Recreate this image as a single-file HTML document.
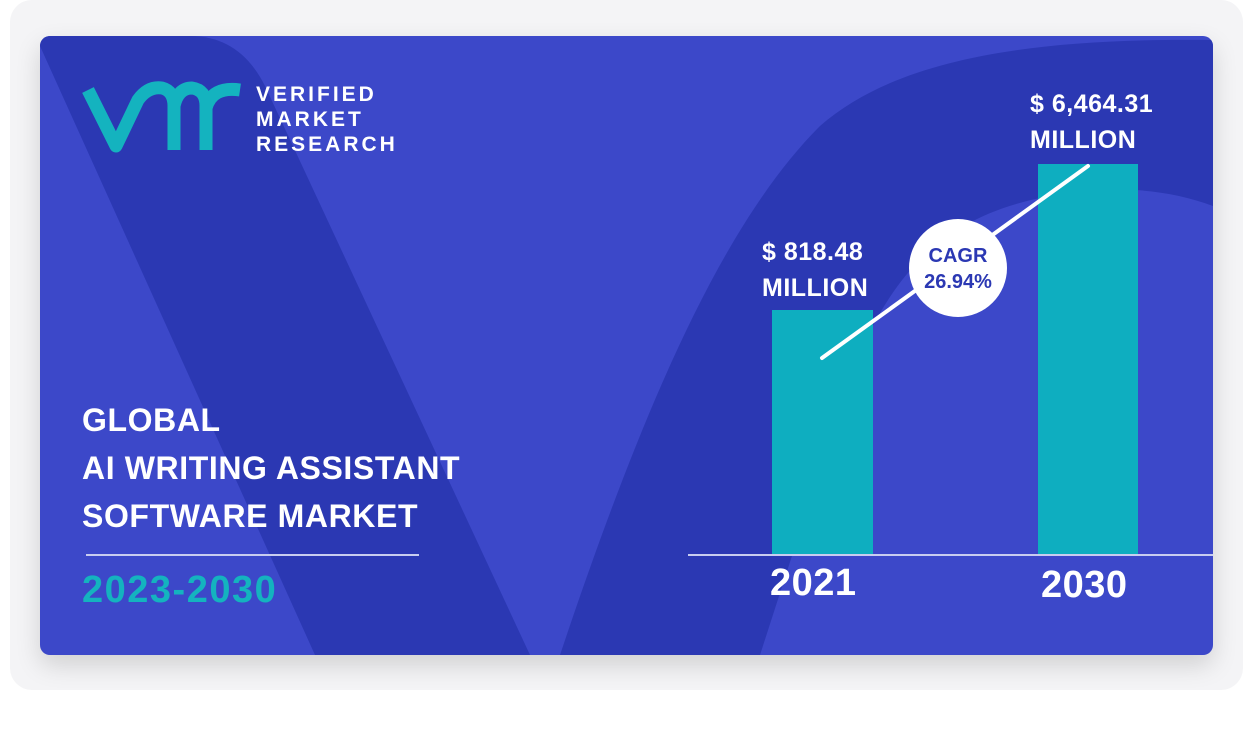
<!DOCTYPE html>
<html><head><style>
body{margin:0;width:1253px;height:732px;background:#fff;overflow:hidden;font-family:"Liberation Sans",sans-serif;}
.outer{position:absolute;left:10px;top:0;width:1233px;height:690px;background:#f4f4f6;border-radius:22px;}
.card{position:absolute;left:40px;top:36px;width:1173px;height:619px;border-radius:10px;overflow:hidden;background:#3c48c9;box-shadow:0 10px 25px rgba(0,0,0,0.15);}
.t{position:absolute;color:#fff;font-weight:bold;white-space:nowrap;}
</style></head><body>
<div class="outer"></div>
<div class="card">
<svg width="1173" height="619" style="position:absolute;left:0;top:0">
<path d="M0 0 L150 0 Q200 0 225 50 L490 619 L275 619 L0 10 Z" fill="#2b38b3"/>
<path d="M520 619 C600 380 680 190 780 90 C860 20 1000 2 1173 4 L1173 170 C1120 150 1060 150 1010 160 C900 180 850 240 810 340 L720 619 Z" fill="#2b38b3"/>
<line x1="648" y1="519" x2="1173" y2="519" stroke="#c8cdf0" stroke-width="2"/>
<rect x="732" y="274" width="101" height="244" fill="#0eaec0"/>
<rect x="998" y="128" width="100" height="390" fill="#0eaec0"/>
<line x1="782" y1="322" x2="1048" y2="130" stroke="#fff" stroke-width="4" stroke-linecap="round"/>
<circle cx="918" cy="232" r="49" fill="#fff"/>
<text x="918" y="226" text-anchor="middle" font-family="Liberation Sans" font-weight="bold" font-size="20" fill="#2b38b3">CAGR</text>
<text x="918" y="252" text-anchor="middle" font-family="Liberation Sans" font-weight="bold" font-size="20" fill="#2b38b3">26.94%</text>
<line x1="46" y1="519" x2="379" y2="519" stroke="#c8cdf0" stroke-width="2"/>
<path d="M48 54 L76 110 L98 64 Q108 50 122 52 Q134 55 134 70 L134 114 M134 70 Q138 52 152 52 Q166 54 166 70 L166 114 M166 72 Q172 50 200 54" fill="none" stroke="#14b3bf" stroke-width="13" stroke-linejoin="round"/>
</svg>
<div class="t" style="left:216px;top:46px;font-size:21px;line-height:25px;letter-spacing:3px;">VERIFIED<br>MARKET<br>RESEARCH</div>
<div class="t" style="left:42px;top:360px;font-size:32px;line-height:48px;letter-spacing:0.6px">GLOBAL<br>AI WRITING ASSISTANT<br>SOFTWARE MARKET</div>
<div class="t" style="left:42px;top:533px;font-size:38px;letter-spacing:1.5px;color:#14b3bf">2023-2030</div>
<div class="t" style="left:722px;top:198px;font-size:25px;line-height:36px;letter-spacing:0.5px">$ 818.48<br>MILLION</div>
<div class="t" style="left:990px;top:50px;font-size:25px;line-height:36px;letter-spacing:0.5px">$ 6,464.31<br>MILLION</div>
<div class="t" style="left:730px;top:526px;font-size:38px;letter-spacing:0.5px">2021</div>
<div class="t" style="left:1001px;top:528px;font-size:38px;letter-spacing:0.5px">2030</div>
</div>
</body></html>
